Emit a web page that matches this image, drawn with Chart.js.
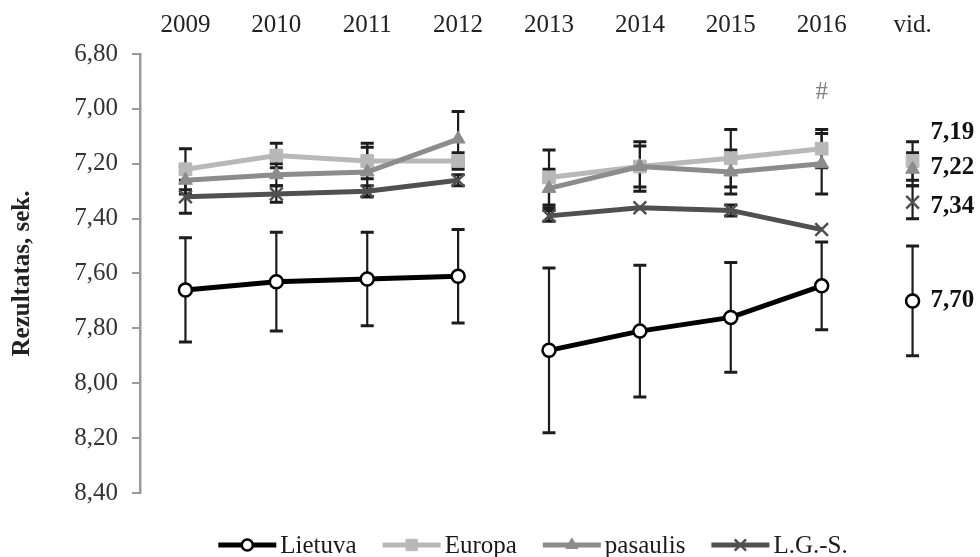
<!DOCTYPE html>
<html>
<head>
<meta charset="utf-8">
<title>Rezultatas</title>
<script src="https://cdn.jsdelivr.net/npm/chart.js@4.4.1/dist/chart.umd.min.js"></script>
<style>
  html, body { margin: 0; padding: 0; background: #fff; }
  #wrap { width: 980px; height: 557px; }
</style>
</head>
<body>
<div id="wrap"><canvas id="chart" width="980" height="557"></canvas></div>
<script>
// Categories (top axis)
const years = ["2009", "2010", "2011", "2012", "2013", "2014", "2015", "2016", "vid."];

// Series values (seconds) and error bar half-lengths
const lietuva     = [7.66, 7.63, 7.62, 7.61, 7.88, 7.81, 7.76, 7.645, 7.70];
const lietuvaErr  = [0.19, 0.18, 0.17, 0.17, 0.30, 0.24, 0.20, 0.16, 0.20];
const europa      = [7.22, 7.17, 7.19, 7.19, 7.25, 7.21, 7.18, 7.145, 7.19];
const europaErr   = [0.075, 0.045, 0.065, 0.03, 0.10, 0.09, 0.105, 0.07, 0.07];
const pasaulis    = [7.26, 7.24, 7.23, 7.11, 7.29, 7.21, 7.23, 7.20, 7.22];
const pasaulisErr = [0.05, 0.04, 0.09, 0.10, 0.07, 0.075, 0.08, 0.11, 0.06];
const lgs         = [7.32, 7.31, 7.30, 7.26, 7.39, 7.36, 7.37, 7.44, 7.34];
const lgsErr      = [0.06, 0.03, 0.02, 0.02, 0.02, 0, 0.02, 0, 0.06];

// Lines are broken after these category indexes (2012 | 2013, 2016 | vid.)
const breakAfter = [3, 7];

// y axis ticks (reversed axis)
const yTicks = [6.8, 7.0, 7.2, 7.4, 7.6, 7.8, 8.0, 8.2, 8.4];

// Average labels next to the "vid." column
const avgLabels  = ["7,19", "7,22", "7,34", "7,70"];
const avgLabelAt = [7.085, 7.215, 7.355, 7.70];

// Significance mark above 2016
const markText = "#";
const markAt = { category: 7, value: 6.94 };

const FONT = "'Liberation Serif', 'Times New Roman', serif";
const fmt = (v) => v.toFixed(2).replace(".", ",");

const gapSegment = (color) => (ctx) =>
  breakAfter.includes(ctx.p0DataIndex) ? "rgba(0,0,0,0)" : color;

// Error bars drawn under the lines and markers
const errorBars = {
  id: "errorBars",
  beforeDatasetsDraw(chart) {
    const { ctx } = chart;
    const yScale = chart.scales.y;
    chart.data.datasets.forEach((ds, i) => {
      const meta = chart.getDatasetMeta(i);
      ctx.save();
      ctx.strokeStyle = "#1c1c1c";
      meta.data.forEach((pt, j) => {
        const e = ds.errors[j];
        if (!e) return;
        const top = yScale.getPixelForValue(ds.data[j] - e);
        const bot = yScale.getPixelForValue(ds.data[j] + e);
        ctx.lineWidth = 2.2;
        ctx.beginPath();
        ctx.moveTo(pt.x, top);
        ctx.lineTo(pt.x, bot);
        ctx.stroke();
        ctx.lineWidth = 3;
        ctx.beginPath();
        ctx.moveTo(pt.x - 6.5, top);
        ctx.lineTo(pt.x + 6.5, top);
        ctx.moveTo(pt.x - 6.5, bot);
        ctx.lineTo(pt.x + 6.5, bot);
        ctx.stroke();
      });
      ctx.restore();
    });
  },
};

// Average value labels and the "#" mark
const extraText = {
  id: "extraText",
  afterDatasetsDraw(chart) {
    const { ctx } = chart;
    const xScale = chart.scales.x;
    const yScale = chart.scales.y;
    ctx.save();
    ctx.textBaseline = "middle";
    ctx.textAlign = "left";
    ctx.fillStyle = "#111";
    ctx.font = "bold 25px " + FONT;
    const xv = xScale.getPixelForValue(years.length - 1) + 18;
    avgLabels.forEach((t, k) => {
      ctx.fillText(t, xv, yScale.getPixelForValue(avgLabelAt[k]));
    });
    ctx.font = "25px " + FONT;
    ctx.fillStyle = "#808080";
    ctx.textAlign = "center";
    ctx.fillText(markText, xScale.getPixelForValue(markAt.category), yScale.getPixelForValue(markAt.value));
    ctx.restore();
  },
};

// Legend below the plot: line + marker + label
const bottomLegend = {
  id: "bottomLegend",
  afterDraw(chart) {
    const { ctx, chartArea } = chart;
    const lineW = 58, gap = 4, spacing = 26;
    ctx.save();
    ctx.font = "25px " + FONT;
    const sets = chart.data.datasets;
    const widths = sets.map((ds) => lineW + gap + ctx.measureText(ds.label).width);
    const total = widths.reduce((a, b) => a + b, 0) + spacing * (sets.length - 1);
    let x = (chartArea.left + chartArea.right) / 2 - total / 2 - 16;
    const yc = chartArea.bottom + 52;
    sets.forEach((ds, i) => {
      ctx.strokeStyle = ds.borderColor;
      ctx.lineWidth = ds.borderWidth;
      ctx.beginPath();
      ctx.moveTo(x, yc);
      ctx.lineTo(x + lineW, yc);
      ctx.stroke();
      ctx.fillStyle = ds.pointBackgroundColor;
      ctx.strokeStyle = ds.pointBorderColor;
      ctx.lineWidth = ds.pointBorderWidth;
      Chart.helpers.drawPoint(ctx, {
        pointStyle: ds.pointStyle,
        radius: ds.pointRadius - 1,
        borderWidth: ds.pointBorderWidth,
        rotation: 0,
      }, x + lineW / 2, yc);
      ctx.fillStyle = "#1a1a1a";
      ctx.textAlign = "left";
      ctx.textBaseline = "middle";
      ctx.fillText(ds.label, x + lineW + gap, yc + 1);
      x += widths[i] + spacing;
    });
    ctx.restore();
  },
};

const ctx = document.getElementById("chart").getContext("2d");

new Chart(ctx, {
  type: "line",
  data: {
    labels: years,
    datasets: [
      {
        label: "Lietuva",
        data: lietuva,
        errors: lietuvaErr,
        borderColor: "#000000",
        borderWidth: 5,
        pointStyle: "circle",
        pointRadius: 6.5,
        pointBorderWidth: 2.5,
        pointBackgroundColor: "#ffffff",
        pointBorderColor: "#000000",
        segment: { borderColor: gapSegment("#000000") },
        order: 0,
      },
      {
        label: "Europa",
        data: europa,
        errors: europaErr,
        borderColor: "#b8b8b8",
        borderWidth: 5,
        pointStyle: "rect",
        pointRadius: 9,
        pointBorderWidth: 1,
        pointBackgroundColor: "#b8b8b8",
        pointBorderColor: "#b8b8b8",
        segment: { borderColor: gapSegment("#b8b8b8") },
        order: 3,
      },
      {
        label: "pasaulis",
        data: pasaulis,
        errors: pasaulisErr,
        borderColor: "#8c8c8c",
        borderWidth: 5,
        pointStyle: "triangle",
        pointRadius: 8,
        pointBorderWidth: 1,
        pointBackgroundColor: "#8c8c8c",
        pointBorderColor: "#8c8c8c",
        segment: { borderColor: gapSegment("#8c8c8c") },
        order: 2,
      },
      {
        label: "L.G.-S.",
        data: lgs,
        errors: lgsErr,
        borderColor: "#505050",
        borderWidth: 5,
        pointStyle: "crossRot",
        pointRadius: 9,
        pointBorderWidth: 2.5,
        pointBackgroundColor: "#505050",
        pointBorderColor: "#505050",
        segment: { borderColor: gapSegment("#505050") },
        order: 1,
      },
    ],
  },
  options: {
    responsive: false,
    animation: false,
    maintainAspectRatio: false,
    layout: { padding: { left: 0, right: 22, top: 0, bottom: 64 } },
    plugins: {
      legend: { display: false },
      tooltip: { enabled: false },
    },
    elements: { line: { tension: 0 } },
    scales: {
      x: {
        type: "category",
        position: "top",
        offset: true,
        grid: { display: false, drawTicks: false, offset: true },
        border: { display: false },
        ticks: {
          color: "#222",
          font: { family: FONT, size: 25 },
          padding: 14,
          maxRotation: 0,
          autoSkip: false,
        },
        afterFit: (s) => { s.height = 54; },
      },
      y: {
        reverse: true,
        min: 6.8,
        max: 8.4,
        afterBuildTicks: (s) => { s.ticks = yTicks.map((v) => ({ value: v })); },
        grid: { drawOnChartArea: false, drawTicks: true, tickLength: 8, color: "#9a9a9a", lineWidth: 2 },
        border: { display: true, color: "#9a9a9a", width: 2.5 },
        ticks: {
          color: "#333",
          font: { family: FONT, size: 25 },
          padding: 14,
          callback: (v) => fmt(v),
        },
        title: {
          display: true,
          text: "Rezultatas, sek.",
          color: "#222",
          font: { family: FONT, size: 25, weight: "bold" },
          padding: { top: 8, bottom: 0 },
        },
        afterFit: (s) => { s.width = 140; },
      },
    },
  },
  plugins: [errorBars, extraText, bottomLegend],
});
</script>
</body>
</html>
